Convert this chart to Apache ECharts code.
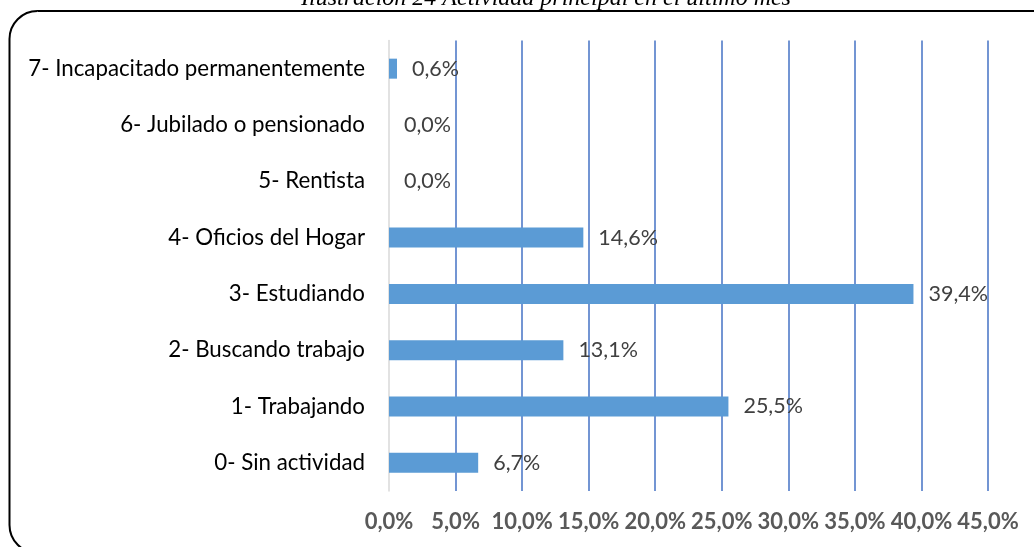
<!DOCTYPE html>
<html>
<head>
<meta charset="utf-8">
<script src="https://cdn.jsdelivr.net/npm/echarts@6/dist/echarts.min.js"></script>
<style>
html,body{margin:0;padding:0;background:#fff;}
#chart{width:1034px;height:547px;}
</style>
</head>
<body>
<div id="chart"></div>
<script>
const categories = ['0- Sin actividad','1- Trabajando','2- Buscando trabajo','3- Estudiando','4- Oficios del Hogar','5- Rentista','6- Jubilado o pensionado','7- Incapacitado permanentemente'];
const values = [6.7, 25.5, 13.1, 39.4, 14.6, 0.0, 0.0, 0.6];
const titleText = 'Ilustración 24 Actividad principal en el último mes';
const xMin = 0, xMax = 45, xInterval = 5;

const fmt = v => v.toFixed(1).replace('.', ',') + '%';

const chart = echarts.init(document.getElementById('chart'), null, {renderer:'canvas'});
chart.setOption({
  animation: false,
  backgroundColor: '#fff',
  graphic: [
    {type:'rect', shape:{x:9.5, y:11, width:1060, height:542, r:28}, style:{fill:'none', stroke:'#000', lineWidth:2}, z:0},
    {type:'text', x:546, y:11, style:{text:titleText, fontStyle:'italic', fontSize:24, fontFamily:'Liberation Serif', fill:'#000', align:'center', verticalAlign:'bottom'}, z:10}
  ],
  grid: {left:389, right:46, top:40.5, bottom:56, containLabel:false},
  xAxis: {
    type:'value', min:xMin, max:xMax, interval:xInterval,
    axisLine:{show:false}, axisTick:{show:false},
    axisLabel:{formatter:fmt, color:'#595959', fontFamily:'Lato', fontWeight:'bold', fontSize:22, margin:20},
    splitLine:{show:true, showMinLine:false, lineStyle:{color:'#4472C4', width:1.5}}
  },
  yAxis: {
    type:'category', data:categories,
    axisLine:{show:true, lineStyle:{color:'#D9D9D9', width:1.5}},
    axisTick:{show:false},
    axisLabel:{color:'#000', fontFamily:'Lato', fontSize:22.3, margin:24}
  },
  series: [{
    type:'bar', data:values, barWidth:20,
    itemStyle:{color:'#5B9BD5'},
    label:{show:true, position:'right', distance:15, formatter:p=>fmt(p.value), color:'#404040', fontFamily:'Lato', fontSize:21.5}
  }]
});
</script>
</body>
</html>
